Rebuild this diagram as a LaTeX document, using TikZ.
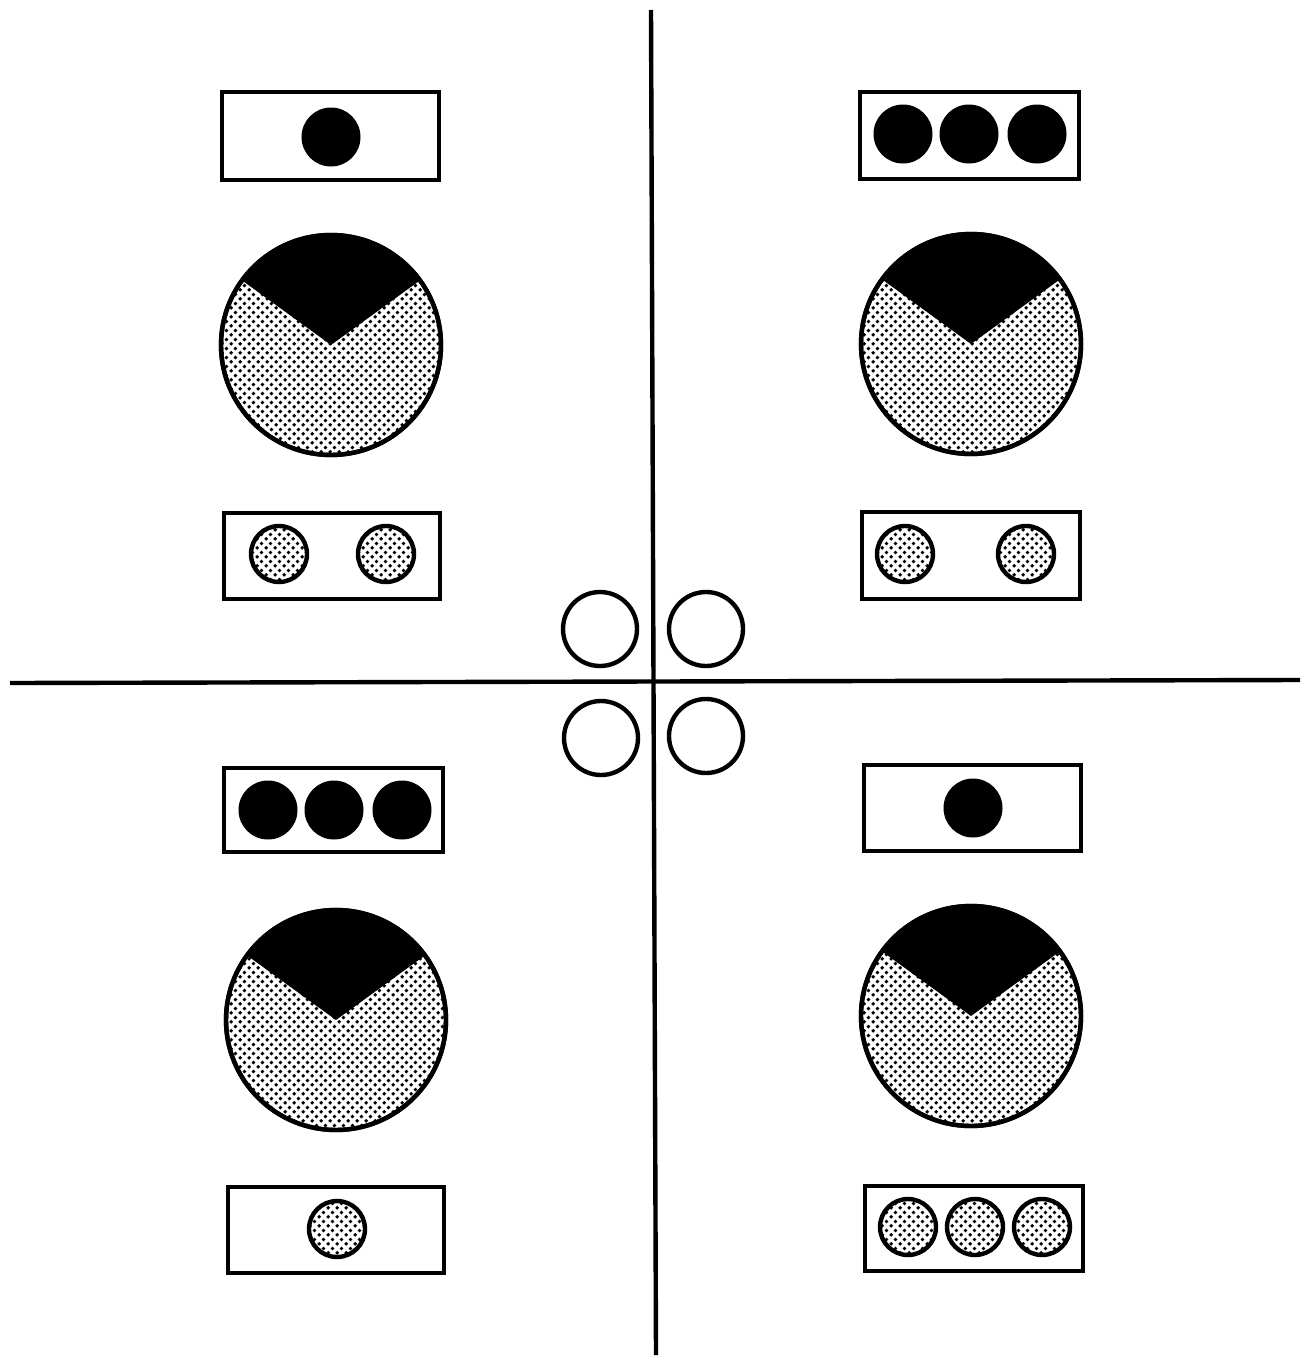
\documentclass[tikz,border=0pt]{standalone}
\usetikzlibrary{patterns}
\pgfdeclarepatternformonly{stipple}{\pgfpointorigin}{\pgfqpoint{4.4pt}{4.4pt}}{\pgfqpoint{4.4pt}{4.4pt}}{%
  \pgfpathcircle{\pgfqpoint{1.1pt}{1.1pt}}{1.0pt}%
  \pgfpathcircle{\pgfqpoint{3.3pt}{3.3pt}}{1.0pt}%
  \pgfusepath{fill}}
\tikzset{
  box/.style={draw, line width=2.2pt, rectangle, inner sep=0pt},
  bdot/.style={circle, fill=black, minimum size=29.5pt, inner sep=0pt},
  sdot/.style={circle, draw, line width=2.2pt, pattern=stipple, minimum size=28pt, inner sep=0pt},
  ring/.style={circle, draw, line width=2.2pt, minimum size=37pt, inner sep=0pt},
  axis/.style={line width=2.2pt},
  pieout/.style={circle, draw, line width=2.2pt, pattern=stipple, minimum size=110pt, inner sep=0pt},
}
\newcommand{\wedgefill}[1]{%
  \fill (#1.center) -- ++(36:55pt) arc[start angle=36, end angle=144, radius=55pt] -- cycle;
  \draw[line width=2.2pt] (#1) circle[radius=55pt];}
\begin{document}
\begin{tikzpicture}[x=0.5pt, y=-0.5pt]
\useasboundingbox (0,0) rectangle (1307,1360);
% axes
\coordinate (vtop) at (651,10);
\coordinate (vbot) at (656,1355);
\coordinate (hl) at (10,683);
\coordinate (hr) at (1300,680);
\draw[axis] (vtop) -- (vbot);
\draw[axis] (hl) -- (hr);
% central rings
\node[ring] (r1) at (600,629) {};
\node[ring] (r2) at (706,629) {};
\node[ring] (r3) at (601,738) {};
\node[ring] (r4) at (706,736) {};
% top-left quadrant
\node[box, minimum width=108.5pt, minimum height=44pt] (tlA) at (330.5,136) {};
\node[bdot] (tlA1) at (331,137) {};
\node[pieout] (tlP) at (331,345) {};
\wedgefill{tlP}
\node[box, minimum width=108pt, minimum height=43pt] (tlB) at (332,556) {};
\node[sdot] (tlB1) at (279,554) {};
\node[sdot] (tlB2) at (386,554) {};
% top-right quadrant
\node[box, minimum width=109.5pt, minimum height=43.5pt] (trA) at (969.5,135.5) {};
\node[bdot] (trA1) at (903,134) {};
\node[bdot] (trA2) at (969,134) {};
\node[bdot] (trA3) at (1037,134) {};
\node[pieout] (trP) at (971,344) {};
\wedgefill{trP}
\node[box, minimum width=109pt, minimum height=43.5pt] (trB) at (971,555.5) {};
\node[sdot] (trB1) at (905,554) {};
\node[sdot] (trB2) at (1026,554) {};
% bottom-left quadrant
\node[box, minimum width=109.5pt, minimum height=42pt] (blA) at (333.5,810) {};
\node[bdot] (blA1) at (268,810) {};
\node[bdot] (blA2) at (334,810) {};
\node[bdot] (blA3) at (402,810) {};
\node[pieout] (blP) at (336,1020) {};
\wedgefill{blP}
\node[box, minimum width=108pt, minimum height=43pt] (blB) at (336,1230) {};
\node[sdot] (blB1) at (337,1229) {};
% bottom-right quadrant
\node[box, minimum width=108.5pt, minimum height=43pt] (brA) at (972.5,808) {};
\node[bdot] (brA1) at (973,808) {};
\node[pieout] (brP) at (971,1016) {};
\wedgefill{brP}
\node[box, minimum width=109pt, minimum height=42.5pt] (brB) at (974,1228.5) {};
\node[sdot] (brB1) at (908,1227) {};
\node[sdot] (brB2) at (975,1227) {};
\node[sdot] (brB3) at (1042,1227) {};
\end{tikzpicture}
\end{document}
